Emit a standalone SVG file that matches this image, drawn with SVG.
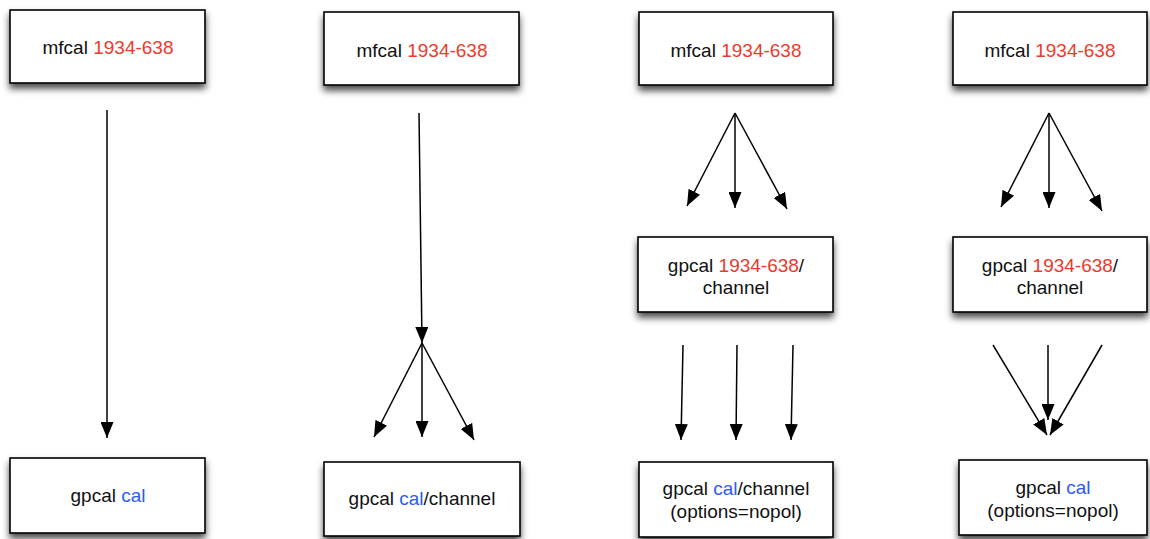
<svg xmlns="http://www.w3.org/2000/svg" width="1150" height="539" viewBox="0 0 1150 539">
<style>
.box{fill:#fff;stroke:#000;stroke-width:1.6;filter:url(#sh)}
.t{font-family:"Liberation Sans",Arial,Helvetica,sans-serif;font-size:19px;fill:#111;text-anchor:middle}
.r{fill:#ec3a2c}
.b{fill:#2d5cf2}
.c{stroke:#000;stroke-width:1.5;fill:none;marker-end:url(#ah)}
</style>
<defs>
<filter id="sh" x="-10%" y="-20%" width="120%" height="150%">
<feDropShadow dx="0" dy="5" stdDeviation="3.5" flood-color="#000" flood-opacity="0.7"/>
</filter>
<marker id="ah" markerUnits="userSpaceOnUse" markerWidth="17" markerHeight="13" refX="16" refY="6.5" orient="auto">
<path d="M0,0 L16,6.5 L0,13 z" fill="#000"/>
</marker>
</defs>
<g id="n1top"><rect class="box" x="10" y="10" width="195" height="73"/><text class="t" x="108" y="54">mfcal <tspan class="r">1934-638</tspan></text></g>
<g id="n2top"><rect class="box" x="324" y="12" width="195" height="73"/><text class="t" x="422" y="57">mfcal <tspan class="r">1934-638</tspan></text></g>
<g id="n3top"><rect class="box" x="639" y="12" width="194" height="73"/><text class="t" x="736" y="57">mfcal <tspan class="r">1934-638</tspan></text></g>
<g id="n4top"><rect class="box" x="953" y="12" width="194" height="73"/><text class="t" x="1050" y="57">mfcal <tspan class="r">1934-638</tspan></text></g>
<g id="n3mid"><rect class="box" x="638" y="237" width="195" height="75"/><text class="t" x="736" y="272">gpcal <tspan class="r">1934-638</tspan>/</text><text class="t" x="736" y="294">channel</text></g>
<g id="n4mid"><rect class="box" x="953" y="237" width="194" height="75"/><text class="t" x="1050" y="272">gpcal <tspan class="r">1934-638</tspan>/</text><text class="t" x="1050" y="294">channel</text></g>
<g id="n1bot"><rect class="box" x="10" y="458" width="195" height="75"/><text class="t" x="108" y="502">gpcal <tspan class="b">cal</tspan></text></g>
<g id="n2bot"><rect class="box" x="324" y="462" width="196" height="74"/><text class="t" x="422" y="505">gpcal <tspan class="b">cal</tspan>/channel</text></g>
<g id="n3bot"><rect class="box" x="639" y="462" width="194" height="75"/><text class="t" x="736" y="495">gpcal <tspan class="b">cal</tspan>/channel</text><text class="t" x="736" y="518">(options=nopol)</text></g>
<g id="n4bot"><rect class="box" x="959" y="460" width="188" height="75"/><text class="t" x="1053" y="494">gpcal <tspan class="b">cal</tspan></text><text class="t" x="1053" y="517">(options=nopol)</text></g>
<g id="connectors">
<path class="c" d="M107,110 L107,438"/>
<path class="c" d="M419,113 L422,343"/>
<path class="c" d="M422,343 L374,437"/>
<path class="c" d="M422,343 L422,437"/>
<path class="c" d="M422,343 L474,440"/>
<path class="c" d="M735,113 L687,206"/>
<path class="c" d="M735,113 L735,208"/>
<path class="c" d="M735,113 L787,209"/>
<path class="c" d="M683,345 L681,440"/>
<path class="c" d="M737,345 L736,440"/>
<path class="c" d="M793,345 L791,440"/>
<path class="c" d="M1049,113 L1001,207"/>
<path class="c" d="M1049,113 L1049,208"/>
<path class="c" d="M1049,113 L1102,211"/>
<path class="c" d="M993,345 L1047,435"/>
<path class="c" d="M1048,345 L1048,420"/>
<path class="c" d="M1102,345 L1050,435"/>
</g>
</svg>
